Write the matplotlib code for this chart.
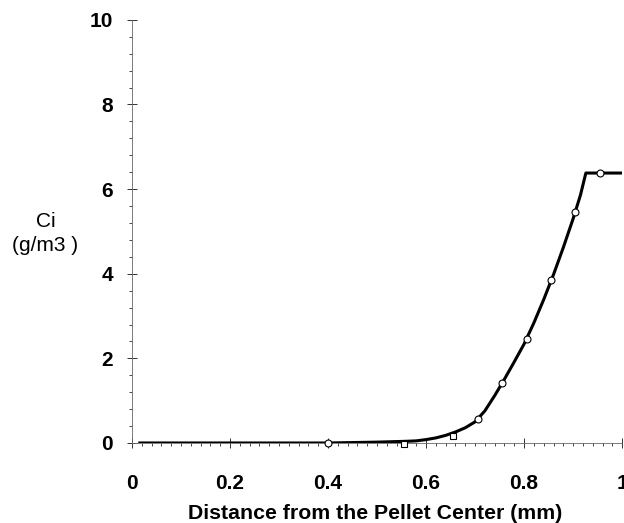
import numpy as np
import matplotlib.pyplot as plt
from matplotlib.ticker import MultipleLocator

plt.rcParams['font.family'] = ['Liberation Sans', 'DejaVu Sans']

# fitted profile
curve_x = [0.016, 0.1, 0.2, 0.3, 0.4, 0.45, 0.5, 0.53, 0.56, 0.58, 0.6, 0.62, 0.64, 0.66,
           0.68, 0.70, 0.72, 0.74, 0.76, 0.78, 0.80, 0.82, 0.84, 0.86, 0.88, 0.90, 0.915,
           0.926, 1.0]
curve_y = [0.0, 0.0, 0.0, 0.0, 0.0, 0.01, 0.02, 0.03, 0.04, 0.05, 0.08, 0.12, 0.18, 0.26,
           0.36, 0.5, 0.76, 1.12, 1.51, 1.92, 2.34, 2.84, 3.39, 3.98, 4.62, 5.3, 5.86,
           6.38, 6.38]

# measured points
circ_x = [0.4, 0.706, 0.755, 0.806, 0.855, 0.904, 0.955]
circ_y = [0.0, 0.57, 1.42, 2.46, 3.85, 5.46, 6.38]
sq_x = [0.555, 0.655]
sq_y = [-0.02, 0.17]

fig = plt.figure(figsize=(6.24, 5.23), dpi=100)
ax = fig.add_axes([0.2115, 0.153, 0.7855, 0.809])

ax.plot(curve_x, curve_y, color='black', lw=2.2, zorder=2, solid_joinstyle='round')
ax.plot(circ_x, circ_y, 'o', ms=5, mfc='white', mec='black', mew=0.8, zorder=3, clip_on=False)
ax.plot(sq_x, sq_y, 's', ms=4.5, mfc='white', mec='black', mew=0.8, zorder=3, clip_on=False)

ax.set_xlim(0, 1)
ax.set_ylim(0, 10)
for s in ['top', 'right']:
    ax.spines[s].set_visible(False)
for s in ['left', 'bottom']:
    ax.spines[s].set_color('#666666')
    ax.spines[s].set_linewidth(0.6)

ax.xaxis.set_minor_locator(MultipleLocator(0.02))
ax.yaxis.set_major_locator(MultipleLocator(2))
ax.yaxis.set_minor_locator(MultipleLocator(0.4))
ax.set_xticks([0, 0.2, 0.4, 0.6, 0.8, 1.0])
ax.set_xticklabels(['0', '0.2', '0.4', '0.6', '0.8', '1'])
ax.tick_params(which='major', direction='inout', length=7, width=0.7, color='#333333',
               labelsize=15)
ax.tick_params(which='minor', direction='out', length=2.5, width=0.7, color='#444444')
ax.tick_params(axis='x', which='major', pad=19)
ax.tick_params(axis='y', which='major', pad=10)
for lab in ax.get_xticklabels() + ax.get_yticklabels():
    lab.set_fontweight('bold')

fig.text(0.6015, 0.0076, 'Distance from the Pellet Center (mm)', ha='center', va='baseline',
         fontsize=15.3, fontweight='bold')
fig.text(0.073, 0.553, 'Ci\n(g/m3 )', ha='center', va='center', fontsize=15, linespacing=1.35)

fig.savefig('out.png', dpi=100)
